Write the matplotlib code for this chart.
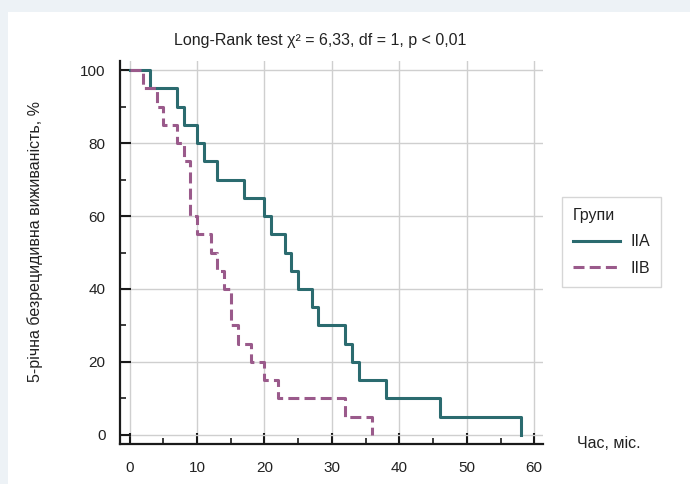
import numpy as np
import matplotlib.pyplot as plt
from matplotlib.patches import Rectangle

# Kaplan-Meier step points (time in months, survival %)
iia_time = [0, 3, 7, 8, 10, 11, 13, 17, 20, 21, 23, 24, 25, 27, 28, 32, 33, 34, 38, 46, 58]
iia_surv = [100, 95, 90, 85, 80, 75, 70, 65, 60, 55, 50, 45, 40, 35, 30, 25, 20, 15, 10, 5, 0]

iib_time = [0, 2, 4, 5, 7, 8, 9, 10, 12, 13, 14, 15, 16, 18, 20, 22, 32, 36]
iib_surv = [100, 95, 90, 85, 80, 75, 60, 55, 50, 45, 40, 30, 25, 20, 15, 10, 5, 0]

group_labels = ["IIA", "IIB"]
x_ticks = [0, 10, 20, 30, 40, 50, 60]
y_ticks = [0, 20, 40, 60, 80, 100]

teal = "#2b6b6f"
plum = "#9a5a8b"

plt.rcParams["font.family"] = ["Liberation Sans", "DejaVu Sans"]

fig = plt.figure(figsize=(6.9, 4.84), dpi=100)
fig.patch.set_facecolor("#edf2f6")
# white card behind everything
fig.patches.append(Rectangle((8 / 690, 0), 1, (484 - 12) / 484,
                             transform=fig.transFigure, facecolor="white",
                             edgecolor="none", zorder=-10))

ax = fig.add_axes([119.5 / 690, 40 / 484, (543 - 119.5) / 690, (444 - 61) / 484])
ax.set_facecolor("none")

ax.plot(iia_time, iia_surv, drawstyle="steps-post", color=teal, lw=2.2,
        label=group_labels[0], zorder=3)
ax.plot(iib_time, iib_surv, drawstyle="steps-post", color=plum, lw=2.2,
        ls=(0, (3.6, 1.7)), label=group_labels[1], zorder=3)

ax.set_xlim(-1.5, 61.3)
ax.set_ylim(-2.5, 102.5)
ax.set_xticks(x_ticks)
ax.set_yticks(y_ticks)
ax.set_xticks([5, 15, 25, 35, 45, 55], minor=True)
ax.set_yticks([10, 30, 50, 70, 90], minor=True)

ax.grid(True, which="major", color="#cfcfcf", lw=1.0, zorder=0)
for s in ["top", "right"]:
    ax.spines[s].set_visible(False)
for s in ["left", "bottom"]:
    ax.spines[s].set_linewidth(1.6)
    ax.spines[s].set_color("#1a1a1a")

ax.tick_params(which="major", direction="in", length=8, width=1.5,
               color="#1a1a1a", labelsize=11, labelcolor="#222222")
ax.tick_params(which="minor", direction="in", length=4, width=1.2, color="#1a1a1a")
ax.tick_params(axis="y", pad=10)
ax.tick_params(axis="x", pad=12)

fig.text(320 / 690, 1 - 40 / 484, "Long-Rank test χ² = 6,33, df = 1, p < 0,01",
         ha="center", va="center", fontsize=11.5, color="#222222")
fig.text(35 / 690, 1 - 241 / 484, "5-річна безрецидивна виживаність, %",
         rotation=90, ha="center", va="center", fontsize=11.5, color="#222222")
fig.text(609 / 690, 1 - 443 / 484, "Час, міс.", ha="center", va="center",
         fontsize=11.5, color="#222222")

leg = ax.legend(title="Групи", loc="upper left", bbox_to_anchor=(562 / 690, 1 - 197 / 484),
                bbox_transform=fig.transFigure, frameon=True, fancybox=False,
                fontsize=11.5, title_fontsize=11.5, handlelength=2.9,
                borderpad=0.7, labelspacing=0.7, handletextpad=0.7,
                borderaxespad=0)
leg._legend_box.align = "left"
leg.get_title().set_color("#222222")
for t in leg.get_texts():
    t.set_color("#222222")
leg.get_frame().set_edgecolor("#cccccc")
leg.get_frame().set_linewidth(1.0)

fig.savefig("out.png", dpi=100, facecolor=fig.get_facecolor())
